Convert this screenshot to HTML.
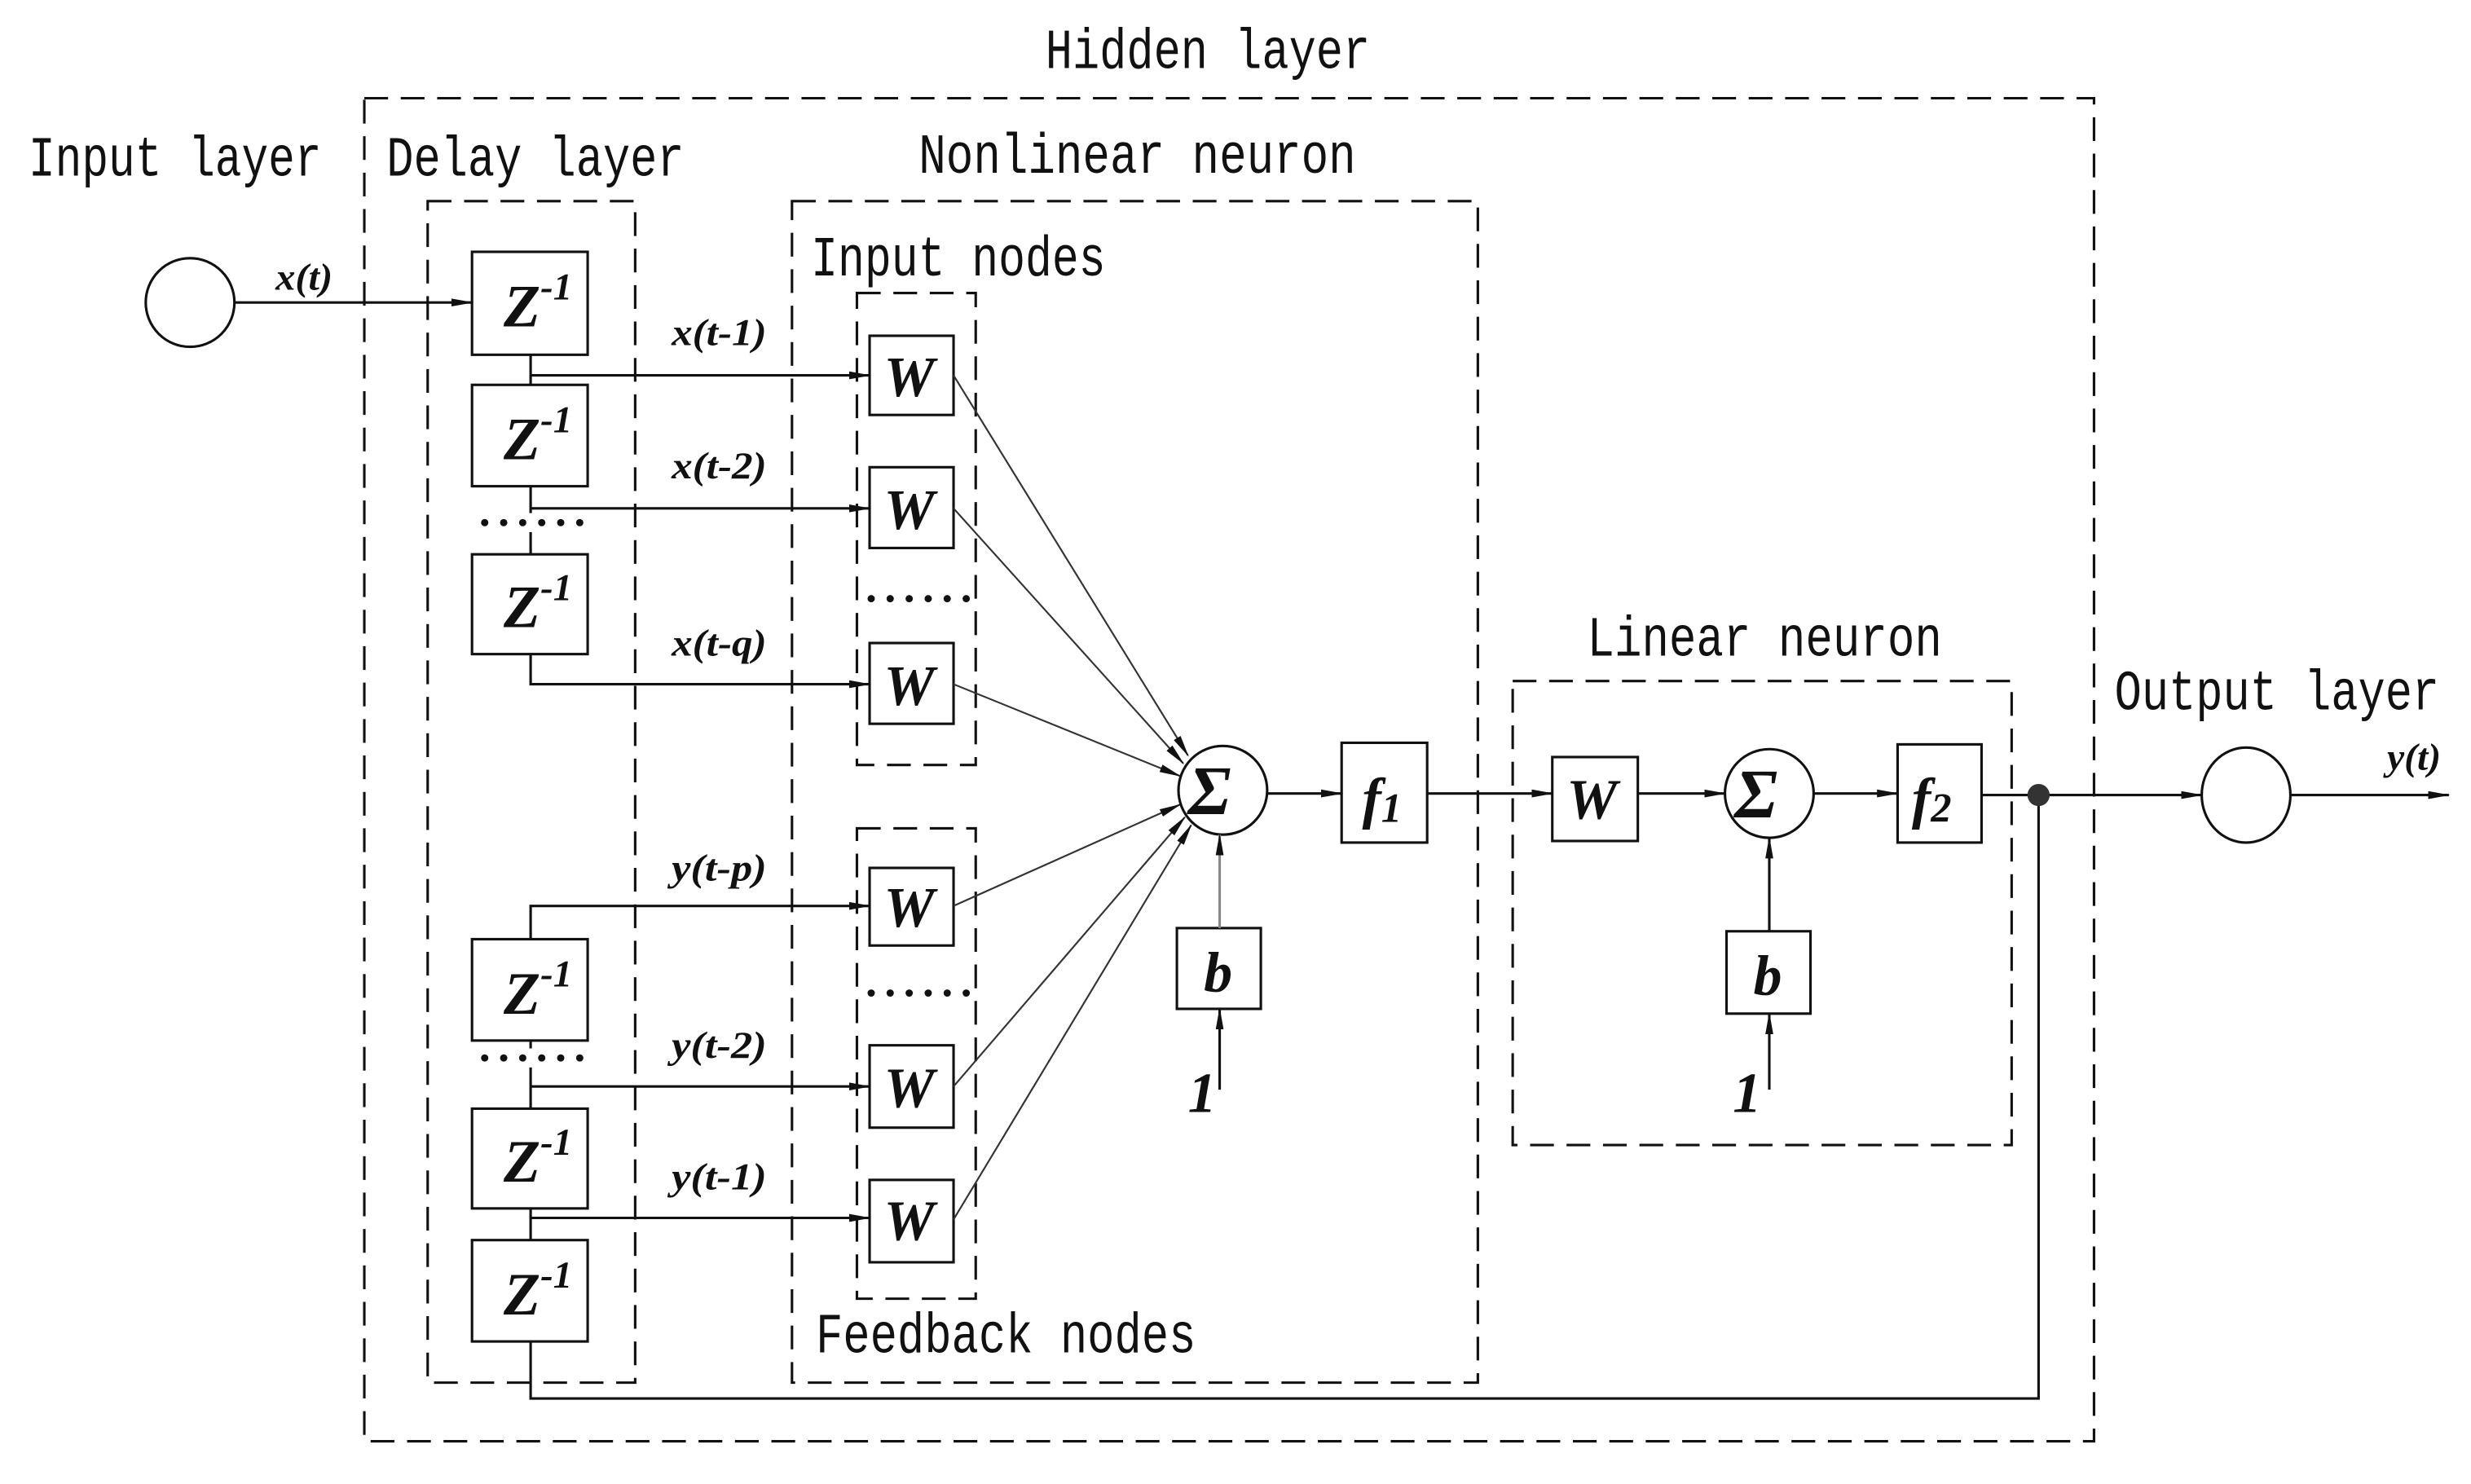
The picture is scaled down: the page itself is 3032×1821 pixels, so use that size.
<!DOCTYPE html>
<html><head><meta charset="utf-8"><style>
html,body{margin:0;padding:0;background:#fff;}
svg{display:block;}
.lb{font-family:"Liberation Mono",monospace;font-size:36px;fill:#111;}
.m{font-family:"Liberation Serif",serif;font-style:italic;fill:#111;}
</style></head><body>
<svg width="3032" height="1821" viewBox="0 0 1560 937" preserveAspectRatio="none" xmlns="http://www.w3.org/2000/svg">
<defs>
<marker id="a" markerWidth="14" markerHeight="8" refX="13" refY="4" orient="auto" markerUnits="userSpaceOnUse">
<path d="M0,1.5 L14,4 L0,6.5 Z" fill="#111"/></marker>
</defs>
<g fill="none" stroke="#111" stroke-width="1.6" stroke-dasharray="15,8">
<rect x="230" y="62" width="1092" height="848"/>
<rect x="270" y="127" width="131" height="746"/>
<rect x="500" y="127" width="433" height="746"/>
<rect x="541" y="185" width="75" height="298"/>
<rect x="541" y="523" width="75" height="297"/>
<rect x="955" y="430" width="315" height="293"/>
</g>
<g class="lb">
<text x="660" y="43" textLength="205" lengthAdjust="spacingAndGlyphs">Hidden layer</text>
<text x="18" y="111" textLength="185" lengthAdjust="spacingAndGlyphs">Input layer</text>
<text x="244" y="111" textLength="188" lengthAdjust="spacingAndGlyphs">Delay layer</text>
<text x="580" y="109" textLength="276" lengthAdjust="spacingAndGlyphs">Nonlinear neuron</text>
<text x="512" y="174" textLength="186" lengthAdjust="spacingAndGlyphs">Input nodes</text>
<text x="515" y="854" textLength="240" lengthAdjust="spacingAndGlyphs">Feedback nodes</text>
<text x="1002" y="414" textLength="224" lengthAdjust="spacingAndGlyphs">Linear neuron</text>
<text x="1335" y="448" textLength="205" lengthAdjust="spacingAndGlyphs">Output layer</text>
</g>
<g fill="none" stroke="#111" stroke-width="1.6">
<circle cx="120" cy="191" r="28"/>
<circle cx="772" cy="499" r="28"/>
<circle cx="1117" cy="501" r="28"/>
<ellipse cx="1418" cy="502" rx="28" ry="30"/>
<rect x="298" y="159" width="73" height="65"/>
<rect x="298" y="243" width="73" height="64"/>
<rect x="298" y="350" width="73" height="63"/>
<rect x="298" y="593" width="73" height="64"/>
<rect x="298" y="700" width="73" height="63"/>
<rect x="298" y="783" width="73" height="64"/>
<rect x="549" y="212" width="53" height="50"/>
<rect x="549" y="295" width="53" height="51"/>
<rect x="549" y="406" width="53" height="51"/>
<rect x="549" y="548" width="53" height="49"/>
<rect x="549" y="660" width="53" height="52"/>
<rect x="549" y="745" width="53" height="52"/>
<rect x="847" y="469" width="54" height="63"/>
<rect x="980" y="478" width="54" height="53"/>
<rect x="1198" y="470" width="53" height="62"/>
<rect x="743" y="586" width="53" height="51"/>
<rect x="1090" y="588" width="53" height="52"/>
</g>
<g fill="none" stroke="#111" stroke-width="1.6">
<path d="M148,191 L298,191" marker-end="url(#a)"/>
<path d="M335,224 V243 M335,307 V324 M335,336 V350 M335,657 V662 M335,674 V700 M335,763 V783"/>
<path d="M335,237 H549" marker-end="url(#a)"/>
<path d="M335,321 H549" marker-end="url(#a)"/>
<path d="M335,413 V432 H549" marker-end="url(#a)"/>
<path d="M335,593 V572 H549" marker-end="url(#a)"/>
<path d="M335,686 H549" marker-end="url(#a)"/>
<path d="M335,769 H549" marker-end="url(#a)"/>
<path d="M335,847 V883 H1287 V502"/>
<path d="M800,501 H847" marker-end="url(#a)"/>
<path d="M901,501 H980" marker-end="url(#a)"/>
<path d="M1034,501 H1089" marker-end="url(#a)"/>
<path d="M1145,501 H1198" marker-end="url(#a)"/>
<path d="M1251,502 H1390" marker-end="url(#a)"/>
<path d="M1446,502 H1546" marker-end="url(#a)"/>
<path d="M770,586 V527" marker-end="url(#a)" stroke="#888"/>
<path d="M770,688 V637" marker-end="url(#a)"/>
<path d="M1117,588 V529" marker-end="url(#a)"/>
<path d="M1117,688 V640" marker-end="url(#a)"/>
</g>
<g fill="none" stroke="#333" stroke-width="1.1">
<path d="M602,237 L750,477" marker-end="url(#a)"/>
<path d="M602,321 L747,482" marker-end="url(#a)"/>
<path d="M602,432 L745,490" marker-end="url(#a)"/>
<path d="M602,572 L745,508" marker-end="url(#a)"/>
<path d="M602,686 L748,516" marker-end="url(#a)"/>
<path d="M602,770 L752,521" marker-end="url(#a)"/>
</g>
<circle cx="1287" cy="502" r="7" fill="#333"/>
<g fill="#111">
<circle cx="306" cy="330" r="2.3"/><circle cx="318" cy="330" r="2.3"/><circle cx="330" cy="330" r="2.3"/><circle cx="342" cy="330" r="2.3"/><circle cx="354" cy="330" r="2.3"/><circle cx="366" cy="330" r="2.3"/>
<circle cx="306" cy="668" r="2.3"/><circle cx="318" cy="668" r="2.3"/><circle cx="330" cy="668" r="2.3"/><circle cx="342" cy="668" r="2.3"/><circle cx="354" cy="668" r="2.3"/><circle cx="366" cy="668" r="2.3"/>
<circle cx="550" cy="378" r="2.3"/><circle cx="562" cy="378" r="2.3"/><circle cx="574" cy="378" r="2.3"/><circle cx="586" cy="378" r="2.3"/><circle cx="598" cy="378" r="2.3"/><circle cx="610" cy="378" r="2.3"/>
<circle cx="550" cy="627" r="2.3"/><circle cx="562" cy="627" r="2.3"/><circle cx="574" cy="627" r="2.3"/><circle cx="586" cy="627" r="2.3"/><circle cx="598" cy="627" r="2.3"/><circle cx="610" cy="627" r="2.3"/>
</g>
<g class="m" font-size="38" font-weight="bold">
<text x="318" y="206">Z<tspan font-size="24" dy="-17">-1</tspan></text>
<text x="318" y="290">Z<tspan font-size="24" dy="-17">-1</tspan></text>
<text x="318" y="396">Z<tspan font-size="24" dy="-17">-1</tspan></text>
<text x="318" y="640">Z<tspan font-size="24" dy="-17">-1</tspan></text>
<text x="318" y="746">Z<tspan font-size="24" dy="-17">-1</tspan></text>
<text x="318" y="830">Z<tspan font-size="24" dy="-17">-1</tspan></text>
</g>
<g class="m" font-size="36" font-weight="bold">
<text x="558" y="250">W</text>
<text x="558" y="334">W</text>
<text x="558" y="445">W</text>
<text x="558" y="585">W</text>
<text x="558" y="699">W</text>
<text x="558" y="783">W</text>
<text x="989" y="517">W</text>
<text x="860" y="516">f<tspan font-size="26" dy="3">1</tspan></text>
<text x="1207" y="516">f<tspan font-size="26" dy="3">2</tspan></text>
<text x="760" y="626">b</text>
<text x="1107" y="628">b</text>
<text x="750" y="702">1</text>
<text x="1094" y="702">1</text>
<text x="750" y="514" font-size="44">Σ</text>
<text x="1095" y="516" font-size="44">Σ</text>
</g>
<g class="m" font-size="24" font-weight="bold">
<text x="174" y="183" textLength="36" lengthAdjust="spacingAndGlyphs">x(t)</text>
<text x="424" y="218" textLength="60" lengthAdjust="spacingAndGlyphs">x(t-1)</text>
<text x="424" y="302" textLength="60" lengthAdjust="spacingAndGlyphs">x(t-2)</text>
<text x="424" y="414" textLength="60" lengthAdjust="spacingAndGlyphs">x(t-q)</text>
<text x="424" y="556" textLength="60" lengthAdjust="spacingAndGlyphs">y(t-p)</text>
<text x="424" y="668" textLength="60" lengthAdjust="spacingAndGlyphs">y(t-2)</text>
<text x="424" y="751" textLength="60" lengthAdjust="spacingAndGlyphs">y(t-1)</text>
<text x="1507" y="486" textLength="34" lengthAdjust="spacingAndGlyphs">y(t)</text>
</g>
</svg>
</body></html>
